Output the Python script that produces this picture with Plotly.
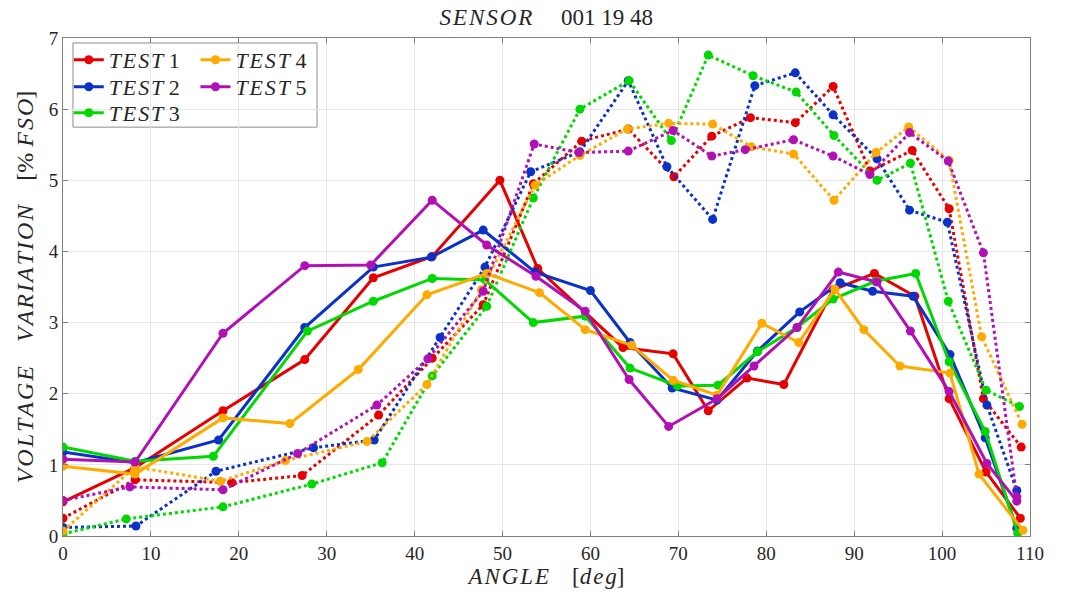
import plotly.graph_objects as go

# ---------------- data ----------------
t1_solid_x = [0, 8.2, 18.2, 27.5, 35.3, 42, 49.7, 54, 63.7, 69.4, 73.4, 77.8, 82, 87.6, 92.3, 96.9, 100.8, 105, 108.9]
t1_solid_y = [0.48, 0.96, 1.76, 2.48, 3.63, 3.93, 5.0, 3.76, 2.65, 2.56, 1.76, 2.22, 2.13, 3.46, 3.69, 3.37, 1.93, 0.9, 0.25]
t1_dot_x = [0, 8.2, 19.2, 27.2, 35.9, 42, 47.8, 53.5, 59, 64.3, 69.5, 73.8, 78.2, 83.3, 87.6, 91.8, 96.6, 100.8, 104.7, 109]
t1_dot_y = [0.25, 0.79, 0.75, 0.85, 1.70, 2.5, 3.25, 4.95, 5.55, 5.72, 5.05, 5.62, 5.88, 5.81, 6.32, 5.13, 5.42, 4.6, 1.93, 1.25]

t2_solid_x = [0, 8.2, 17.7, 27.5, 35.3, 41.9, 47.8, 53.7, 60, 64.5, 69.3, 74.4, 79, 83.8, 88.4, 92.1, 96.7, 100.9, 104.9, 108.5]
t2_solid_y = [1.18, 1.03, 1.35, 2.93, 3.78, 3.92, 4.3, 3.71, 3.45, 2.72, 2.08, 1.91, 2.6, 3.15, 3.56, 3.44, 3.37, 2.55, 1.38, 0.11]
t2_dot_x = [0, 8.3, 17.4, 28.5, 35.4, 42.9, 48, 53.2, 58.8, 64.3, 68.7, 73.9, 78.7, 83.3, 87.6, 92.6, 96.3, 100.6, 105.1, 108.5]
t2_dot_y = [0.12, 0.14, 0.91, 1.24, 1.35, 2.79, 3.78, 5.12, 5.4, 6.4, 5.19, 4.45, 6.33, 6.51, 5.92, 5.3, 4.58, 4.41, 1.84, 0.64]

t3_solid_x = [0, 8.2, 17.1, 27.8, 35.3, 42, 48, 53.5, 59.4, 64.5, 69.9, 74.5, 79, 83.5, 87.6, 92.4, 97, 100.8, 104.9, 108.6]
t3_solid_y = [1.25, 1.05, 1.12, 2.88, 3.3, 3.62, 3.6, 3.0, 3.09, 2.36, 2.11, 2.12, 2.59, 2.93, 3.33, 3.58, 3.69, 2.45, 1.47, 0.04]
t3_dot_x = [0, 7.2, 18.2, 28.3, 36.3, 42, 48.2, 53.5, 58.8, 64.4, 69.2, 73.4, 78.5, 83.4, 87.7, 92.6, 96.4, 100.7, 105, 108.8]
t3_dot_y = [0.03, 0.24, 0.41, 0.73, 1.03, 2.25, 3.23, 4.75, 6.0, 6.4, 5.56, 6.76, 6.47, 6.24, 5.63, 5.0, 5.24, 3.3, 2.05, 1.82]

t4_solid_x = [0, 8.2, 18.2, 25.8, 33.6, 41.4, 48.2, 54.2, 59.4, 64.7, 69.4, 74.4, 79.5, 83.7, 87.8, 91.1, 95.2, 100.9, 104.2, 109.2]
t4_solid_y = [0.98, 0.87, 1.66, 1.58, 2.34, 3.39, 3.69, 3.42, 2.9, 2.68, 2.19, 1.98, 2.99, 2.72, 3.47, 2.9, 2.39, 2.29, 0.87, 0.08]
t4_dot_x = [0, 8.2, 17.9, 25.3, 34.6, 41.4, 47.6, 53.7, 58.8, 64.2, 68.9, 73.9, 78.3, 83.1, 87.7, 92.5, 96.2, 100.8, 104.5, 109.1]
t4_dot_y = [0.07, 0.97, 0.77, 1.06, 1.33, 2.13, 3.46, 4.93, 5.35, 5.72, 5.8, 5.79, 5.47, 5.37, 4.72, 5.39, 5.75, 5.28, 2.8, 1.57]

t5_solid_x = [0, 8.2, 18.2, 27.5, 35, 42, 48.2, 53.8, 59.4, 64.4, 68.9, 74.4, 78.6, 83.5, 88.2, 92.6, 96.4, 100.8, 105.1, 108.5]
t5_solid_y = [1.08, 1.04, 2.85, 3.8, 3.81, 4.72, 4.09, 3.65, 3.16, 2.2, 1.54, 1.93, 2.39, 2.93, 3.71, 3.57, 2.88, 2.03, 1.02, 0.49]
t5_dot_x = [0, 7.6, 18.2, 26.7, 35.7, 41.5, 47.8, 53.6, 58.7, 64.3, 69.4, 73.8, 77.6, 83.1, 87.6, 91.8, 96.3, 100.7, 104.7, 108.5]
t5_dot_y = [0.5, 0.69, 0.65, 1.16, 1.84, 2.49, 3.44, 5.51, 5.39, 5.41, 5.7, 5.34, 5.43, 5.57, 5.34, 5.08, 5.67, 5.27, 3.98, 0.55]

names = ["TEST 1", "TEST 2", "TEST 3", "TEST 4", "TEST 5"]
colors = ["#e60000", "#0a32c8", "#00d900", "#ffaa00", "#b010b4"]

series = [
    (t1_solid_x, t1_solid_y, t1_dot_x, t1_dot_y),
    (t2_solid_x, t2_solid_y, t2_dot_x, t2_dot_y),
    (t3_solid_x, t3_solid_y, t3_dot_x, t3_dot_y),
    (t4_solid_x, t4_solid_y, t4_dot_x, t4_dot_y),
    (t5_solid_x, t5_solid_y, t5_dot_x, t5_dot_y),
]

FONT = "Liberation Serif"
TXT = "#262626"
HAIR = "\u200a"
NB = "\u00a0"

# legend layout (paper coords): column x, row y (one legend per entry)
leg_cols = [0.006, 0.006, 0.006, 0.137, 0.137]
leg_rows = [0.956, 0.9016, 0.8494, 0.956, 0.9016]
legend_ids = ["legend", "legend2", "legend3", "legend4", "legend5"]


def mi(word):
    """math-italic style: italic with slightly loose letter spacing"""
    return "<i>" + HAIR.join(word) + "</i>"


fig = go.Figure()
for (sx, sy, dx, dy), name, col, lg in zip(series, names, colors, legend_ids):
    word, num = name.split(" ")
    label = mi(word) + NB + num
    fig.add_trace(go.Scatter(
        x=sx, y=sy, mode="lines+markers", name=label, legend=lg,
        line=dict(color=col, width=3), marker=dict(color=col, size=9),
    ))
    fig.add_trace(go.Scatter(
        x=dx, y=dy, mode="lines+markers", name=label, showlegend=False,
        line=dict(color=col, width=3, dash="dot"), marker=dict(color=col, size=9),
    ))

axis_common = dict(
    showgrid=True, gridcolor="#e6e6e6", gridwidth=1,
    zeroline=False, showline=True, linecolor="#808080", linewidth=1,
    mirror="ticks", ticks="inside", ticklen=5, tickcolor="#808080",
    tickfont=dict(family=FONT, size=19, color=TXT),
)

legends = {}
for lg, lx, ly in zip(legend_ids, leg_cols, leg_rows):
    legends[lg] = dict(x=lx, y=ly, xanchor="left", yanchor="middle", bgcolor="rgba(0,0,0,0)",
                       borderwidth=0, font=dict(family=FONT, size=22, color=TXT), itemwidth=30)

fig.update_layout(
    width=1067, height=601,
    margin=dict(l=63, r=37, t=38, b=65),
    paper_bgcolor="white", plot_bgcolor="white",
    title=dict(text=mi("SENSOR") + NB * 5 + "001 19 48", x=0.512, xanchor="center", y=0.972, yanchor="middle",
               font=dict(family=FONT, size=23, color=TXT)),
    xaxis=dict(range=[0, 110], dtick=10, tick0=0,
               title=dict(text=mi("ANGLE") + NB * 4 + "[" + mi("deg") + "]", standoff=4,
                          font=dict(family=FONT, size=23, color=TXT)),
               **axis_common),
    yaxis=dict(range=[0, 7], dtick=1, tick0=0,
               title=dict(text=mi("VOLTAGE") + NB * 4 + mi("VARIATION") + NB * 4 + "[%" + NB + mi("FSO") + "]",
                          standoff=8, font=dict(family=FONT, size=24, color=TXT)),
               **axis_common),
    shapes=[dict(type="rect", xref="paper", yref="paper", x0=0.0103, x1=0.2627, y0=0.821, y1=0.990,
                 line=dict(color="#8c8c8c", width=1), fillcolor="white", layer="below")],
    showlegend=True,
    **legends,
)

fig.write_html("out.html")
